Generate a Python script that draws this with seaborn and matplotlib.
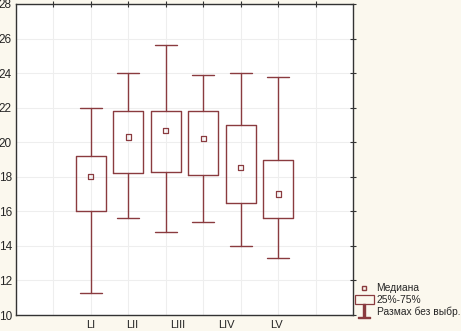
import matplotlib
matplotlib.use("Agg")
import matplotlib.pyplot as plt
from matplotlib.lines import Line2D
from matplotlib.patches import Rectangle
import seaborn as sns

# summary values
groups = [1, 2, 3, 4, 5, 6]
medians = [18.0, 20.3, 20.7, 20.2, 18.55, 17.0]
q1 = [16.0, 18.2, 18.3, 18.1, 16.5, 15.6]
q3 = [19.2, 21.8, 21.8, 21.8, 21.0, 19.0]
whisk_lo = [11.3, 15.6, 14.8, 15.4, 14.0, 13.3]
whisk_hi = [22.0, 24.0, 25.6, 23.9, 24.0, 23.8]
cat_labels = ["LI", "LII", "LIII", "LIV", "LV"]
label_pos = [1.0, 2.1, 3.32, 4.61, 5.95]
y_ticks = [10, 12, 14, 16, 18, 20, 22, 24, 26, 28]
legend_labels = ["Медиана", "25%-75%", "Размах без выбр."]

box_col = "#8a3b3f"
bg_col = "#fbf8ee"

sns.set_style("whitegrid", {"grid.color": "#eeeeee", "axes.edgecolor": "#333333"})
plt.rcParams["font.family"] = ["Liberation Sans", "DejaVu Sans"]

fig = plt.figure(figsize=(4.61, 3.31), dpi=100, facecolor=bg_col)
ax = fig.add_axes([16 / 461, 16 / 331, 337 / 461, 311 / 331])
ax.set_facecolor("white")

stats = []
for i in range(len(groups)):
    stats.append({"med": medians[i], "q1": q1[i], "q3": q3[i],
                  "whislo": whisk_lo[i], "whishi": whisk_hi[i], "fliers": []})

ax.bxp(stats, positions=groups, widths=0.8, showfliers=False, patch_artist=False,
       boxprops=dict(color=box_col, linewidth=1.0),
       whiskerprops=dict(color=box_col, linewidth=1.0),
       capprops=dict(color=box_col, linewidth=1.0),
       medianprops=dict(linestyle="none"),
       capwidths=0.58, manage_ticks=False)

# median markers
sns.scatterplot(x=groups, y=medians, marker="s", s=14, facecolor="none",
                edgecolor=box_col, linewidth=0.9, ax=ax, zorder=5)

ax.set_xlim(-1, 8)
ax.set_ylim(10, 28)
ax.set_xticks(range(0, 8))
ax.set_xticklabels([""] * 8)
ax.set_yticks(y_ticks)
ax.set_yticklabels([str(v) for v in y_ticks], fontsize=8.5)
ax.tick_params(direction="inout", length=4, width=0.8, color="#333333",
               top=True, right=True, pad=1)
ax.tick_params(axis="y", pad=1)
for s in ax.spines.values():
    s.set_linewidth(1.0)
    s.set_color("#333333")
ax.grid(True, linewidth=0.8)

trans = ax.get_xaxis_transform()
for lab, p in zip(cat_labels, label_pos):
    ax.text(p, -0.016, lab, transform=trans, ha="center", va="top", fontsize=8)

handles = [
    Line2D([], [], marker="s", markersize=3.5, markerfacecolor="none",
           markeredgecolor=box_col, linestyle="none"),
    Rectangle((0, 0), 1, 1, facecolor="none", edgecolor=box_col, linewidth=0.9),
    Line2D([], [], marker="$\\perp$", markersize=10, color=box_col, linestyle="none"),
]
fig.legend(handles, legend_labels, loc="lower left",
           bbox_to_anchor=(354 / 461, 13 / 331), frameon=False, fontsize=7.4,
           handlelength=1.8, handleheight=0.9, handletextpad=0.3, labelspacing=0.15,
           borderaxespad=0, borderpad=0.1)

fig.savefig("out.png", dpi=100, facecolor=bg_col)
